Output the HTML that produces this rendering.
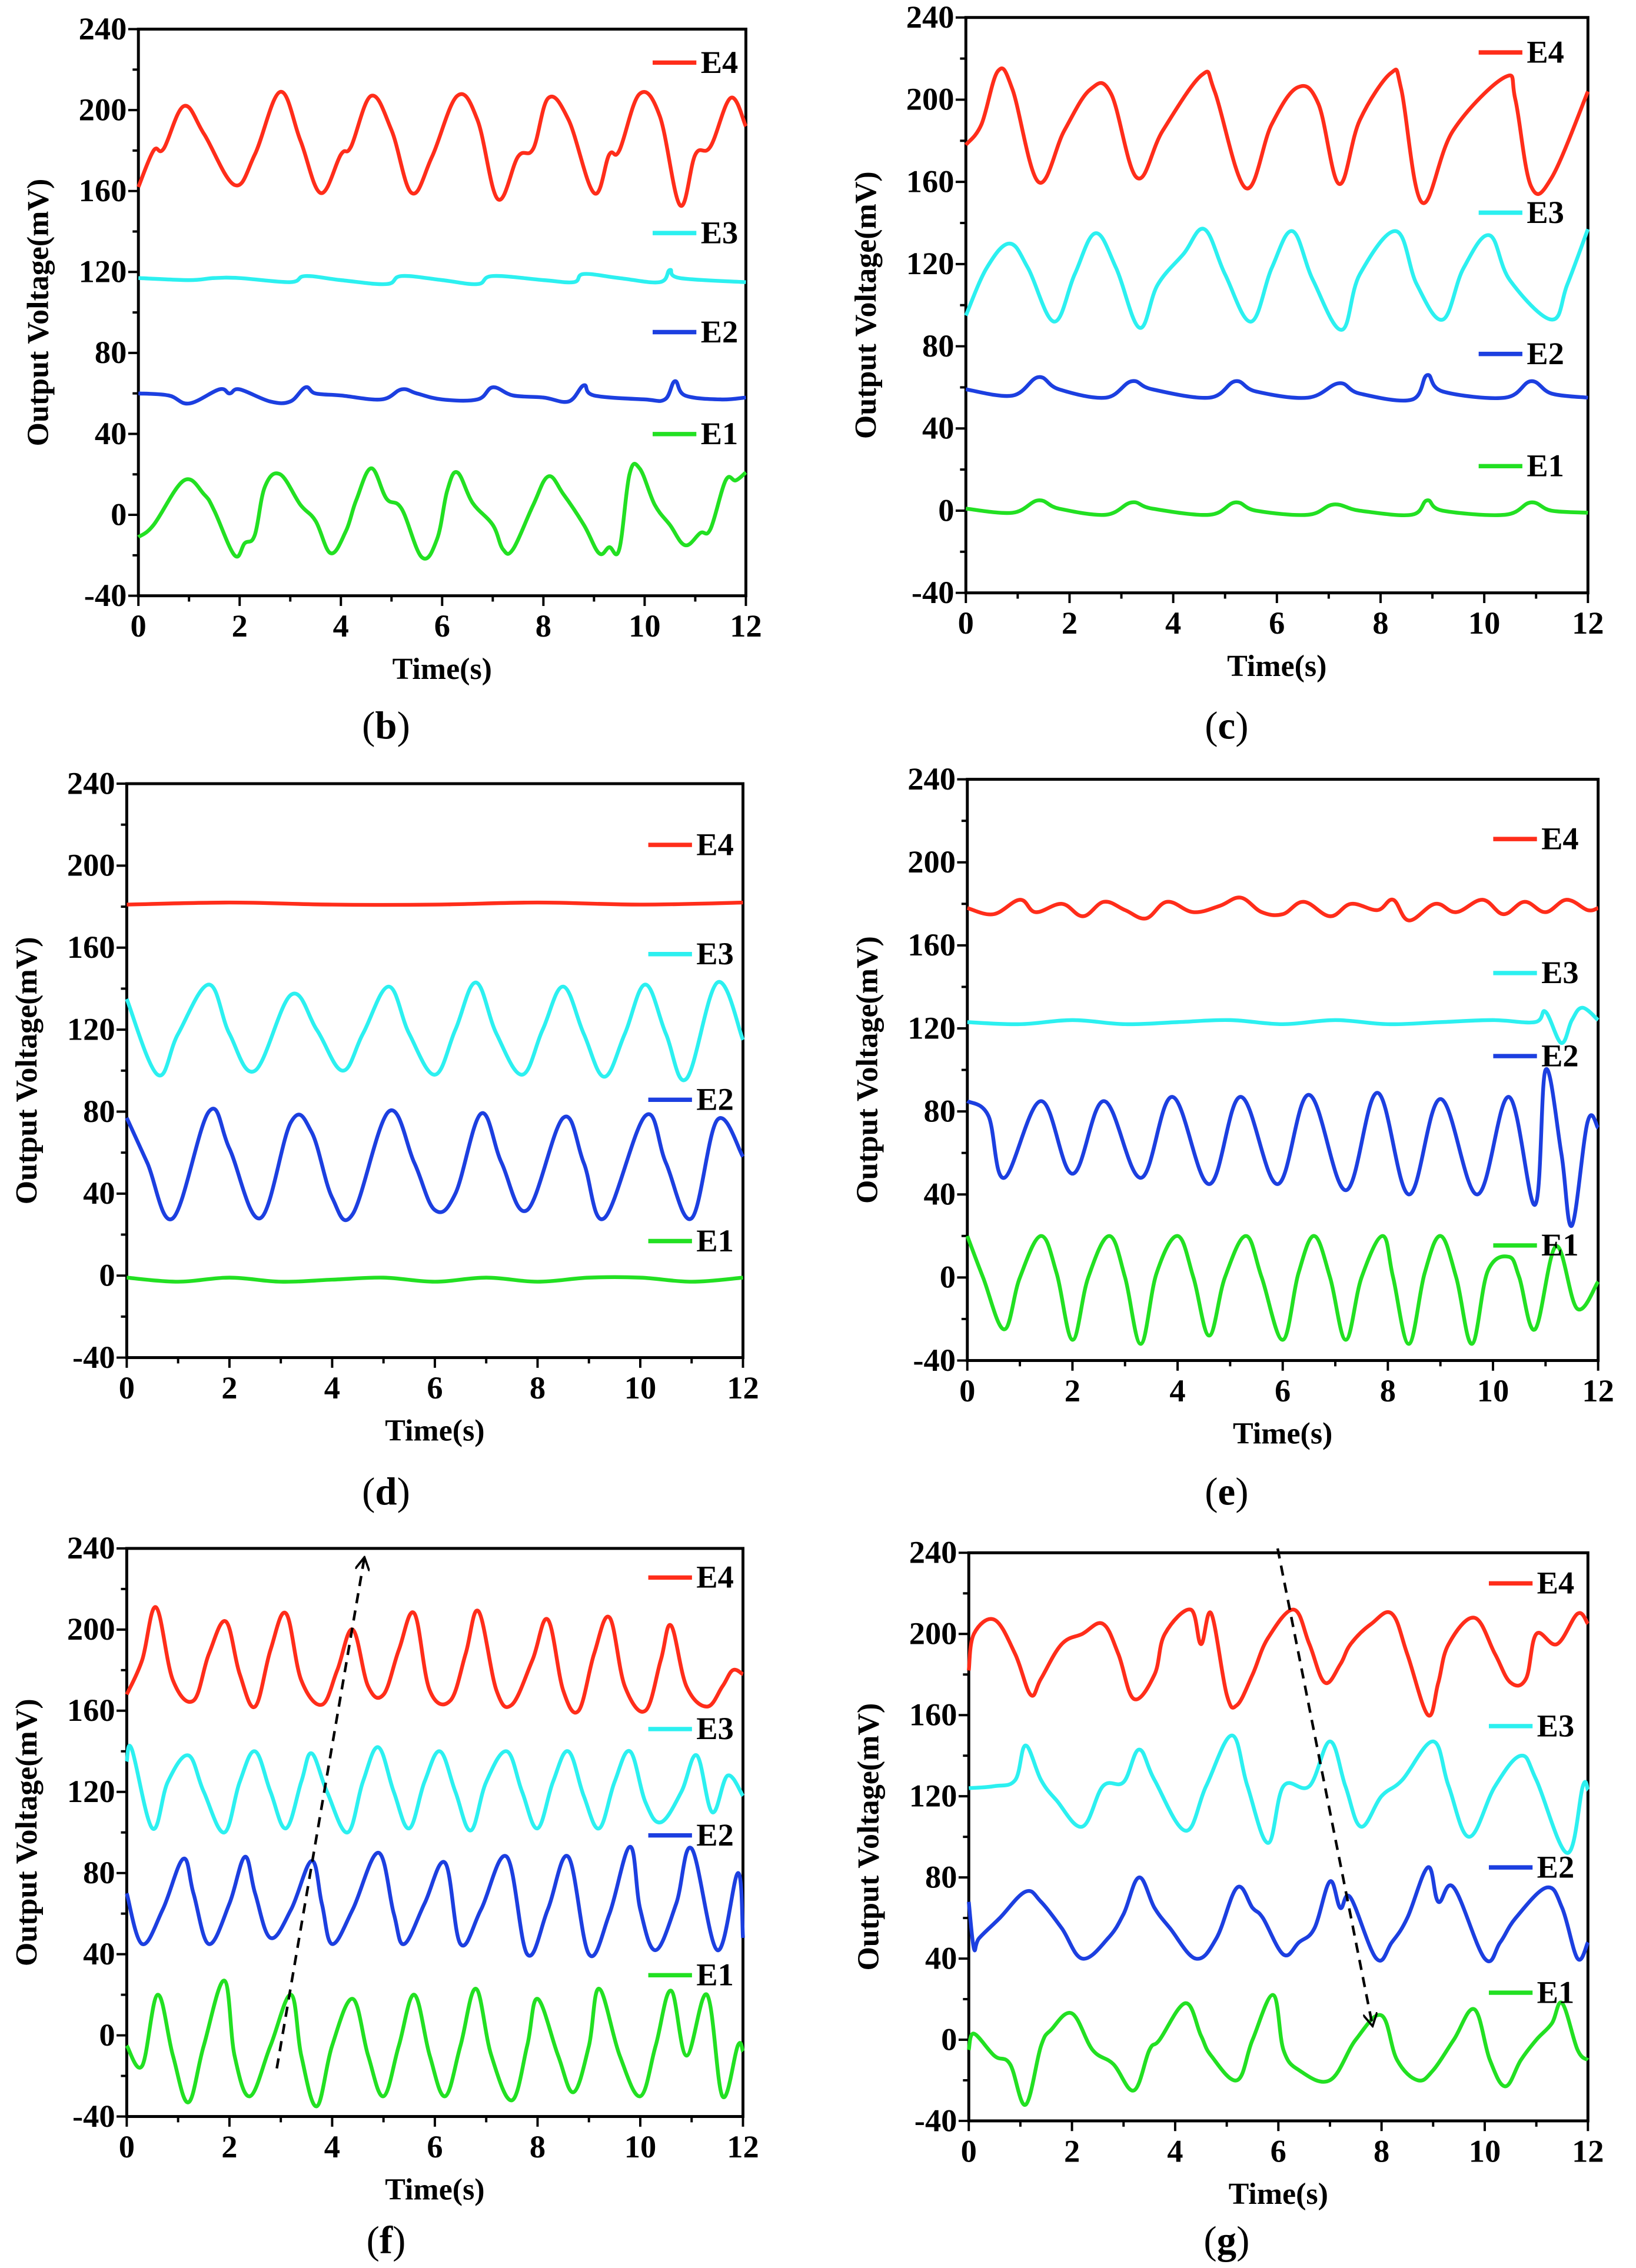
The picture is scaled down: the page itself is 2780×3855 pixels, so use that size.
<!DOCTYPE html>
<html><head><meta charset="utf-8"><style>
html,body{margin:0;padding:0;background:#fff;}
svg{display:block;}
text{font-family:"Liberation Serif",serif;font-weight:bold;fill:#000;}
</style></head><body>
<svg id="fig" width="2780" height="3855" viewBox="0 0 1123 1557" preserveAspectRatio="none" xmlns="http://www.w3.org/2000/svg"></svg>
<script>
// ---- data (time in s, voltage in mV) ----
const b_t4=[0,0.3,0.5,0.9,1.3,1.9,2.3,2.8,3.2,3.6,4.0,4.2,4.6,5.0,5.4,5.8,6.3,6.7,7.1,7.5,7.8,8.1,8.5,9.0,9.3,9.5,9.9,10.3,10.7,11.0,11.3,11.7,12];
const b_v4=[162,180,181,202,188,163,178,209,185,159,178,182,207,190,159,177,207,195,156,177,181,206,195,159,178,180,208,197,153,178,182,206,192];
const b_t3=[0,1,1.5,2,3,3.3,4,4.9,5.2,6,6.7,7,8,8.6,8.8,9.5,10.3,10.5,10.7,12];
const b_v3=[117,116,117,117,115,118,116,114,118,116,114,118,116,115,119,117,115,121,117,115];
const b_t2=[0,0.6,1,1.6,1.8,2,2.6,3,3.3,3.5,4,4.8,5.2,5.5,6,6.7,7,7.4,8,8.5,8.8,9,10,10.4,10.6,10.8,11.5,12];
const b_v2=[60,59,55,62,60,62,56,56,63,60,59,57,62,60,57,57,63,59,58,56,64,59,57,57,66,59,57,58];
const b_t1=[0,0.3,0.9,1.3,1.5,1.9,2.1,2.3,2.5,2.8,3.2,3.5,3.8,4.1,4.3,4.6,4.9,5.2,5.6,5.9,6.1,6.3,6.6,7.0,7.2,7.4,7.8,8.1,8.4,8.8,9.1,9.3,9.5,9.7,9.9,10.2,10.5,10.8,11.1,11.3,11.6,11.8,12];
const b_v1=[-11,-5,17,10,2,-20,-14,-10,14,20,5,-3,-19,-8,7,23,8,3,-21,-12,12,21,6,-5,-17,-17,5,19,10,-5,-19,-16,-17,20,23,5,-5,-15,-9,-7,17,17,21];

const c_t4=[0,0.3,0.62,0.9,1.4,1.9,2.4,2.8,3.3,3.8,4.55,4.8,5.4,5.9,6.4,6.8,7.2,7.6,8.2,8.4,8.8,9.4,10.4,10.6,10.9,11.3,12];
const c_v4=[178,188,214,205,160,185,205,203,162,185,212,204,157,188,206,198,159,190,213,205,150,185,211,200,158,162,204];
const c_t3=[0,0.4,0.84,1.2,1.7,2.1,2.5,2.9,3.35,3.7,4.2,4.6,5.0,5.5,5.9,6.3,6.7,7.25,7.6,8.3,8.7,9.2,9.6,10.1,10.5,11.3,11.6,12];
const c_v3=[95,118,130,118,92,115,135,118,89,110,125,137,115,92,118,136,112,88,115,136,110,93,118,134,112,93,110,137];
const c_t2=[0,0.9,1.4,1.8,2.7,3.2,3.6,4.7,5.2,5.6,6.6,7.2,7.6,8.6,8.9,9.2,10.4,10.9,11.3,12];
const c_v2=[59,56,65,59,55,63,59,55,63,58,55,62,57,54,66,58,55,63,57,55];
const c_t1=[0,0.9,1.4,1.8,2.7,3.2,3.6,4.7,5.2,5.6,6.6,7.1,7.6,8.6,8.9,9.2,10.4,10.9,11.3,12];
const c_v1=[1,-1,5,1,-2,4,1,-2,4,0,-2,3,0,-2,5,0,-2,4,0,-1];

const d_t4=[0,2,4,6,8,10,12];
const d_v4=[181,182,181,181,182,181,182];
const d_t3=[0,0.6,1.0,1.6,2.0,2.5,3.2,3.7,4.2,4.6,5.1,5.5,6.0,6.4,6.8,7.2,7.7,8.1,8.5,8.9,9.3,9.7,10.1,10.5,10.9,11.5,12];
const d_v3=[135,98,118,142,118,100,137,120,100,118,141,118,98,120,143,118,98,120,141,118,97,118,142,118,96,143,115];
const d_t2=[0,0.4,0.9,1.6,2.0,2.6,3.2,3.6,4.0,4.4,5.1,5.6,6.0,6.4,6.9,7.3,7.8,8.5,8.9,9.3,10.1,10.5,11.0,11.5,12];
const d_v2=[77,55,28,80,62,28,75,70,38,30,80,55,32,40,79,55,32,77,55,28,78,55,28,76,58];
const d_t1=[0,1,2,3,4,5,6,7,8,9,10,11,12];
const d_v1=[-1,-3,-1,-3,-2,-1,-3,-1,-3,-1,-1,-3,-1];

const e_t4=[0,0.5,1,1.3,1.8,2.2,2.6,3,3.4,3.8,4.3,4.8,5.2,5.6,6,6.4,6.9,7.3,7.8,8.1,8.4,8.9,9.3,9.8,10.2,10.6,11,11.4,11.8,12];
const e_v4=[178,175,182,176,180,174,181,177,173,181,176,179,183,176,175,181,174,180,177,182,172,180,176,182,175,181,176,182,177,178];
const e_t3=[0,1,2,3,4,5,6,7,8,9,10,10.8,11.0,11.3,11.5,11.7,12];
const e_v3=[123,122,124,122,123,124,122,124,122,123,124,123,128,113,124,130,124];
const e_t2=[0,0.4,0.7,1.4,2.0,2.6,3.3,3.9,4.6,5.2,5.9,6.5,7.2,7.8,8.4,9.0,9.7,10.3,10.8,11.0,11.3,11.5,11.8,12];
const e_v2=[85,78,48,85,50,85,48,87,45,87,45,88,42,89,40,86,40,87,35,100,60,25,75,72];
const e_t1=[0,0.3,0.7,1.0,1.4,1.7,2.0,2.3,2.7,3.0,3.3,3.6,4.0,4.3,4.6,4.9,5.3,5.6,6.0,6.3,6.6,6.9,7.2,7.5,7.9,8.1,8.4,8.7,9.0,9.3,9.6,9.9,10.3,10.5,10.8,11.2,11.6,12];
const e_v1=[20,0,-25,0,20,2,-30,0,20,0,-32,2,20,0,-28,0,20,0,-30,2,20,0,-30,0,20,0,-32,2,20,0,-32,3,10,0,-25,15,-15,-2];

const f_t4=[0,0.3,0.57,0.9,1.3,1.6,1.93,2.2,2.5,2.8,3.1,3.4,3.8,4.1,4.4,4.7,5.0,5.3,5.6,5.9,6.3,6.6,6.85,7.2,7.5,7.9,8.2,8.5,8.8,9.1,9.4,9.7,10.1,10.4,10.6,10.9,11.3,11.6,11.8,12];
const f_v4=[168,185,211,175,165,188,204,178,162,190,208,175,163,180,200,172,168,190,208,170,165,188,209,170,163,185,205,170,160,188,206,172,160,185,202,172,162,172,180,178];
const f_t3=[0,0.1,0.5,0.8,1.2,1.5,1.9,2.2,2.5,2.8,3.1,3.4,3.6,3.9,4.3,4.6,4.9,5.2,5.5,5.8,6.1,6.4,6.7,7.0,7.4,7.7,8.0,8.3,8.6,8.9,9.2,9.5,9.8,10.1,10.4,10.8,11.1,11.4,11.7,12];
const f_v3=[135,141,102,125,138,120,100,125,140,120,102,125,139,120,100,125,142,120,102,125,140,120,101,125,140,120,102,125,140,118,102,125,140,115,105,120,138,110,128,118];
const f_t2=[0,0.3,0.7,1.1,1.3,1.6,2.0,2.3,2.5,2.8,3.2,3.6,3.8,4.0,4.4,4.9,5.2,5.4,5.8,6.2,6.5,6.9,7.4,7.8,8.2,8.6,9.0,9.4,9.8,10.0,10.3,10.7,11.0,11.5,11.9,12];
const f_v2=[70,45,62,87,70,45,65,88,70,48,62,86,65,45,62,90,60,45,65,85,45,62,88,40,62,88,40,60,93,62,42,65,92,42,80,48];
const f_t1=[0,0.3,0.6,0.9,1.2,1.5,1.9,2.1,2.4,2.8,3.2,3.4,3.7,4.0,4.4,4.7,5.0,5.3,5.6,5.9,6.2,6.5,6.8,7.1,7.5,7.8,8.0,8.4,8.7,9.0,9.2,9.6,10.0,10.3,10.6,10.9,11.3,11.6,11.9,12];
const f_v1=[-5,-15,20,-10,-33,-5,27,-10,-30,-5,20,-10,-35,-5,18,-10,-30,-5,20,-10,-30,-5,23,-10,-32,-5,18,-10,-28,-5,23,-10,-30,-5,22,-10,20,-30,-5,-8];

const g_t4=[0,0.1,0.5,0.9,1.2,1.4,1.8,2.2,2.6,2.9,3.2,3.6,3.8,4.3,4.5,4.7,5.0,5.2,5.5,5.8,6.3,6.6,6.9,7.2,7.4,7.8,8.2,8.5,8.9,9.1,9.3,9.8,10.2,10.5,10.8,11.0,11.4,11.8,12];
const g_v4=[182,200,207,190,170,178,195,200,205,190,168,180,200,212,195,210,170,165,180,198,212,195,176,185,195,205,210,190,160,176,195,208,190,176,178,200,195,210,205];
const g_t3=[0,0.5,0.9,1.1,1.4,1.7,2.2,2.6,3.0,3.3,3.6,4.2,4.6,5.1,5.4,5.8,6.1,6.6,7.0,7.3,7.6,8.0,8.4,9.0,9.3,9.7,10.2,10.7,11.0,11.6,11.9,12];
const g_v3=[124,125,128,145,128,118,105,125,127,143,128,103,125,150,125,97,125,125,147,125,105,120,128,147,125,100,125,140,128,92,125,123];
const g_t2=[0,0.1,0.2,0.6,1.1,1.4,1.8,2.2,2.7,3.0,3.3,3.6,3.9,4.4,4.8,5.2,5.5,5.7,6.1,6.4,6.7,7.0,7.2,7.4,7.9,8.2,8.5,8.9,9.1,9.4,10.0,10.3,10.6,11.2,11.5,11.8,12];
const g_v2=[68,45,50,60,73,68,55,40,50,62,80,65,55,40,50,75,65,60,42,48,55,78,65,70,40,48,60,85,68,75,40,48,60,75,65,40,48];
const g_t1=[0,0.1,0.5,0.8,1.1,1.4,1.6,2.0,2.4,2.8,3.2,3.5,3.7,4.2,4.5,4.7,5.2,5.5,5.9,6.1,6.4,7.0,7.5,8.0,8.3,8.7,9.0,9.4,9.8,10.1,10.4,10.7,11.0,11.3,11.5,11.8,12];
const g_v1=[-5,3,-8,-12,-32,-3,5,13,-5,-12,-25,-5,0,18,2,-8,-20,0,22,-5,-15,-20,0,12,-10,-20,-15,0,15,-10,-23,-10,0,8,18,-5,-10];

const xTicks=[0,2,4,6,8,10,12];
const yTicks=[-40,0,40,80,120,160,200,240];
const seriesNames=["E4","E3","E2","E1"];
const colors={E4:"#ff2d1a",E3:"#2cf0f0",E2:"#1c3fe0",E1:"#22e022"};

const panels=[
 {id:"b",x0:95,x1:512,yt:20,yb:409,leg:[448,[43,160,228,298]],lab:[265,498],data:[[b_t4,b_v4],[b_t3,b_v3],[b_t2,b_v2],[b_t1,b_v1]]},
 {id:"c",x0:663,x1:1090,yt:12,yb:407,leg:[1015,[36,146,243,320]],lab:[842,498],data:[[c_t4,c_v4],[c_t3,c_v3],[c_t2,c_v2],[c_t1,c_v1]]},
 {id:"d",x0:87,x1:510,yt:538,yb:932,leg:[445,[580,655,755,852]],lab:[265,1024],data:[[d_t4,d_v4],[d_t3,d_v3],[d_t2,d_v2],[d_t1,d_v1]]},
 {id:"e",x0:664,x1:1097,yt:535,yb:934,leg:[1025,[576,668,725,855]],lab:[842,1024],data:[[e_t4,e_v4],[e_t3,e_v3],[e_t2,e_v2],[e_t1,e_v1]]},
 {id:"f",x0:87,x1:510,yt:1063,yb:1453,leg:[445,[1083,1187,1260,1356]],lab:[265,1538],data:[[f_t4,f_v4],[f_t3,f_v3],[f_t2,f_v2],[f_t1,f_v1]],arrow:[190,1420,250,1070]},
 {id:"g",x0:665,x1:1090,yt:1066,yb:1456,leg:[1022,[1087,1185,1282,1368]],lab:[842,1538],data:[[g_t4,g_v4],[g_t3,g_v3],[g_t2,g_v2],[g_t1,g_v1]],arrow:[877,1063,942,1390]}
];

const NS="http://www.w3.org/2000/svg";
const svg=document.getElementById("fig");
function mk(tag,attrs,parent,txt){const e=document.createElementNS(NS,tag);for(const k in attrs)e.setAttribute(k,attrs[k]);if(txt!==undefined)e.textContent=txt;(parent||svg).appendChild(e);return e;}
function smooth(P){
  let d="M"+P[0][0].toFixed(1)+","+P[0][1].toFixed(1);
  for(let i=0;i<P.length-1;i++){
    const p0=P[i-1]||P[i],p1=P[i],p2=P[i+1],p3=P[i+2]||p2;
    const k=0.18;
    const c1=[p1[0]+(p2[0]-p0[0])*k,p1[1]+(p2[1]-p0[1])*k];
    const c2=[p2[0]-(p3[0]-p1[0])*k,p2[1]-(p3[1]-p1[1])*k];
    d+=" C"+c1.map(v=>v.toFixed(1)).join(",")+" "+c2.map(v=>v.toFixed(1)).join(",")+" "+p2[0].toFixed(1)+","+p2[1].toFixed(1);
  }
  return d;
}

const defs=mk("defs",{});
const mrk=mk("marker",{id:"arr",markerWidth:"10",markerHeight:"10",refX:"8",refY:"5",orient:"auto",markerUnits:"userSpaceOnUse"},defs);
mk("path",{d:"M0,0 L9,5 L0,10",fill:"none",stroke:"#000","stroke-width":"1.5"},mrk);

panels.forEach(p=>{
  const g=mk("g",{});
  
  
  const X=t=>p.x0+(t-0)/12*(p.x1-p.x0);
  const Y=v=>p.yb-(v+40)/280*(p.yb-p.yt);
  const fr=mk("rect",{x:p.x0,y:p.yt,width:p.x1-p.x0,height:p.yb-p.yt,fill:"none",stroke:"#000","stroke-width":"2"},g);
  
  
  for(let v=-40;v<=240;v+=20){
    const major=(v%40===0);
    mk("line",{x1:p.x0,x2:p.x0-(major?7:4),y1:Y(v),y2:Y(v),stroke:"#000","stroke-width":"1.6"},g);
  }
  yTicks.forEach(v=>{
    const t=mk("text",{x:p.x0-8,y:Y(v)+7,"text-anchor":"end","font-size":"22"},g,String(v));
    
    
  });
  for(let s=0;s<=12;s++){
    const major=(s%2===0);
    mk("line",{x1:X(s),x2:X(s),y1:p.yb,y2:p.yb+(major?7:4),stroke:"#000","stroke-width":"1.6"},g);
  }
  xTicks.forEach(s=>{
    const t=mk("text",{x:X(s),y:p.yb+28,"text-anchor":"middle","font-size":"22"},g,String(s));
    
    
  });
  const yt=mk("text",{x:0,y:0,"text-anchor":"middle","font-size":"21",transform:`translate(${p.x0-62},${(p.yt+p.yb)/2}) rotate(-90)`},g,"Output Voltage(mV)");
  
  
  const xt=mk("text",{x:(p.x0+p.x1)/2,y:p.yb+57,"text-anchor":"middle","font-size":"21"},g,"Time(s)");
  
  
  p.data.forEach((d,i)=>{
    const name=seriesNames[i];
    const P=d[0].map((t,k)=>[X(t),Y(d[1][k])]);
    const pl=mk("path",{d:smooth(P),fill:"none",stroke:colors[name],"stroke-width":"2.6","stroke-linejoin":"round"},g);
    
    
    const ly=p.leg[1][i];
    const ll=mk("line",{x1:p.leg[0],x2:p.leg[0]+30,y1:ly,y2:ly,stroke:colors[name],"stroke-width":"3"},g);
    
    
    const lt=mk("text",{x:p.leg[0]+33,y:ly+7,"font-size":"22"},g,name);
    
    
  });
  if(p.arrow){
    const a=p.arrow;
    const al=mk("line",{x1:a[0],y1:a[1],x2:a[2],y2:a[3],stroke:"#000","stroke-width":"1.8","stroke-dasharray":"7,5","marker-end":"url(#arr)"},g);
    
    
  }
  const pl=mk("text",{x:p.lab[0],y:p.lab[1]+9,"text-anchor":"middle","font-size":"27","font-weight":"normal"},g);
  
  
  mk("tspan",{"font-weight":"normal"},pl,"(");
  mk("tspan",{"font-weight":"bold"},pl,p.id);
  mk("tspan",{"font-weight":"normal"},pl,")");
});
</script>
</body></html>
